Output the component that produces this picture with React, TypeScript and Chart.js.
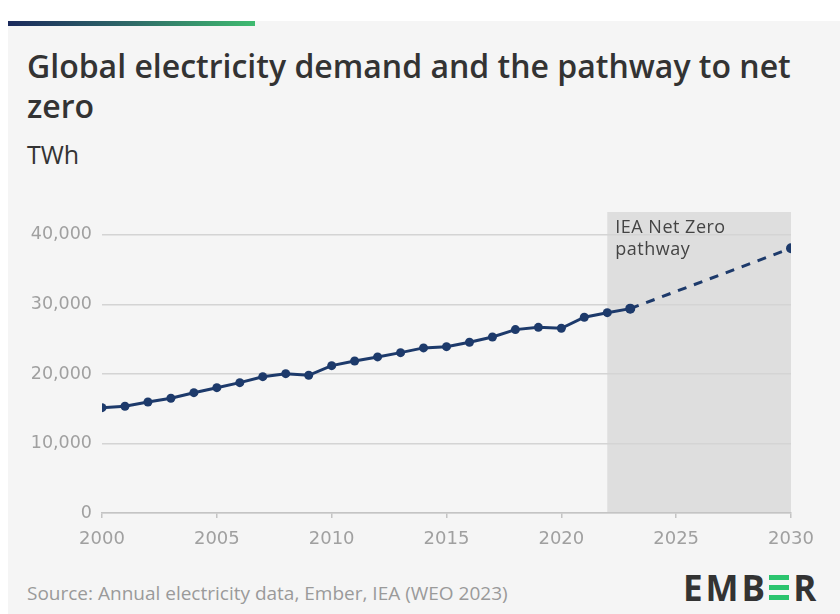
import React, { useEffect, useRef } from "react";
import { Chart, registerables } from "chart.js";

Chart.register(...registerables);

const historicYears = [2000, 2001, 2002, 2003, 2004, 2005, 2006, 2007, 2008, 2009, 2010, 2011, 2012, 2013, 2014, 2015, 2016, 2017, 2018, 2019, 2020, 2021, 2022, 2023];
const historicDemand = [15150, 15350, 15970, 16500, 17310, 18030, 18750, 19610, 20040, 19810, 21200, 21870, 22450, 23070, 23750, 23930, 24560, 25320, 26380, 26710, 26570, 28160, 28820, 29400];
const pathwayYears = [2023, 2030];
const pathwayDemand = [29400, 38080];
const shadeRange = [2022, 2030];
const yTicks = [0, 10000, 20000, 30000, 40000];
const xTicks = [2000, 2005, 2010, 2015, 2020, 2025, 2030];
const annotationLines = ["IEA Net Zero", "pathway"];

const FONT = "'Open Sans', sans-serif";
const TICK_FONT = "'DejaVu Sans', sans-serif";
const NAVY = "#1d3a6b";

const shadePlugin = {
  id: "shade",
  beforeDraw(chart: any) {
    const { ctx, chartArea, scales } = chart;
    const x0 = scales.x.getPixelForValue(shadeRange[0]);
    const x1 = scales.x.getPixelForValue(shadeRange[1]);
    ctx.save();
    ctx.fillStyle = "#dedede";
    ctx.fillRect(x0, chartArea.top, x1 - x0, chartArea.bottom - chartArea.top);
    ctx.fillStyle = "#444444";
    ctx.font = `18px ${FONT}`;
    try {
      (ctx as any).letterSpacing = "0.5px";
    } catch (e) {}
    ctx.textBaseline = "middle";
    ctx.textAlign = "left";
    annotationLines.forEach((t, i) => {
      ctx.fillText(t, x0 + 8, chartArea.top + 16 + i * 22);
    });
    ctx.restore();
  },
};

function ChartCanvas() {
  const ref = useRef<HTMLCanvasElement>(null);
  useEffect(() => {
    if (!ref.current) return;
    const chart = new Chart(ref.current, {
      type: "line",
      data: {
        datasets: [
          {
            label: "Historic",
            data: historicYears.map((y, i) => ({ x: y, y: historicDemand[i] })),
            borderColor: NAVY,
            backgroundColor: NAVY,
            borderWidth: 3,
            pointRadius: 4.5,
            pointBorderWidth: 0,
            tension: 0,
          },
          {
            label: "Pathway",
            data: pathwayYears.map((y, i) => ({ x: y, y: pathwayDemand[i] })),
            borderColor: NAVY,
            backgroundColor: NAVY,
            borderWidth: 3,
            borderDash: [9, 8],
            pointRadius: 5,
            pointBorderWidth: 0,
            tension: 0,
          },
        ],
      },
      options: {
        animation: false,
        responsive: false,
        maintainAspectRatio: false,
        layout: { padding: { left: 0, right: 49, top: 21, bottom: 0 } },
        plugins: { legend: { display: false }, tooltip: { enabled: false } },
        scales: {
          x: {
            type: "linear",
            min: 2000,
            max: 2030,
            afterBuildTicks: (scale: any) => {
              scale.ticks = xTicks.map((v) => ({ value: v }));
            },
            afterFit: (scale: any) => {
              scale.height = 38;
            },
            ticks: {
              color: "#a0a0a0",
              font: { family: TICK_FONT, size: 18 },
              padding: 11,
              maxRotation: 0,
              callback: (v: any) => String(v),
            },
            grid: { drawOnChartArea: false, drawTicks: true, tickLength: 5, color: "#c4c4c4", lineWidth: 1.5 },
            border: { display: true, color: "#c4c4c4", width: 1.5 },
          },
          y: {
            min: 0,
            max: 43300,
            afterBuildTicks: (scale: any) => {
              scale.ticks = yTicks.map((v) => ({ value: v }));
            },
            afterFit: (scale: any) => {
              scale.width = 94;
            },
            ticks: {
              color: "#a0a0a0",
              font: { family: TICK_FONT, size: 17.5 },
              padding: 10,
              callback: (v: any) => Number(v).toLocaleString("en-US"),
            },
            grid: { color: "#d4d4d4", lineWidth: 1.5, drawTicks: false },
            border: { display: false },
          },
        },
      },
      plugins: [shadePlugin],
    });
    return () => chart.destroy();
  }, []);
  return (
    <canvas
      ref={ref}
      width={832}
      height={360}
      style={{ position: "absolute", left: 0, top: 170, width: 832, height: 360 }}
    />
  );
}

export default function App() {
  return (
    <div
      style={{
        position: "absolute",
        left: 8,
        top: 21,
        width: 832,
        height: 593,
        background: "#f5f5f5",
        fontFamily: FONT,
        overflow: "hidden",
      }}
    >
      <div
        style={{
          position: "absolute",
          left: 0,
          top: 0,
          width: 247,
          height: 5,
          background: "linear-gradient(to right, #1b2a5c, #2f6a68, #3fbb70)",
        }}
      />
      <div
        style={{
          position: "absolute",
          left: 19,
          top: 25,
          width: 795,
          fontSize: 32,
          fontWeight: 600,
          color: "#333333",
          lineHeight: "40px",
        }}
      >
        Global electricity demand and the pathway to net zero
      </div>
      <div style={{ position: "absolute", left: 19, top: 116, fontSize: 25, color: "#333333" }}>TWh</div>
      <ChartCanvas />
      <div style={{ position: "absolute", left: 19, top: 559, fontSize: 19, color: "#9a9a9a" }}>
        Source: Annual electricity data, Ember, IEA (WEO 2023)
      </div>
      <div
        style={{
          position: "absolute",
          left: 675,
          top: 543,
          fontSize: 35,
          fontWeight: 700,
          color: "#333333",
          letterSpacing: 3,
          display: "flex",
          alignItems: "center",
        }}
      >
        <span>EMB</span>
        <span
          style={{
            display: "inline-flex",
            flexDirection: "column",
            justifyContent: "space-between",
            width: 20,
            height: 25,
            margin: "0 4px 0 1px",
          }}
        >
          <span style={{ display: "block", height: 5, background: "#2bc46e" }} />
          <span style={{ display: "block", height: 5, background: "#2bc46e" }} />
          <span style={{ display: "block", height: 5, background: "#2bc46e" }} />
        </span>
        <span>R</span>
      </div>
    </div>
  );
}
